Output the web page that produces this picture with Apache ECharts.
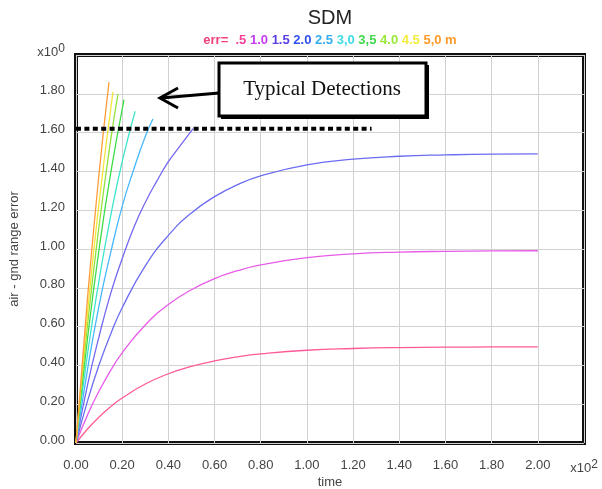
<!DOCTYPE html>
<html>
<head>
<meta charset="utf-8">
<script src="https://cdn.jsdelivr.net/npm/echarts@6/dist/echarts.min.js"></script>
<style>
  html, body { margin: 0; padding: 0; background: #fff; }
  #chart { width: 602px; height: 489px; }
</style>
</head>
<body>
<div id="chart"></div>
<script>
// Range-error growth over time for each error level (time in units of x10^2)
const errLabels = ['.5', '1.0', '1.5', '2.0', '2.5', '3,0', '3,5', '4.0', '4.5', '5,0 m'];

const tLong = [0, 0.05, 0.1, 0.15, 0.2, 0.3, 0.4, 0.5, 0.6, 0.7, 0.8, 1.0, 1.2, 1.4, 1.6, 1.8, 2.0];
const err05 = [0, 0.072, 0.134, 0.187, 0.232, 0.304, 0.357, 0.395, 0.423, 0.444, 0.459, 0.478, 0.487, 0.492, 0.494, 0.495, 0.496];
const err10 = [0, 0.145, 0.268, 0.374, 0.465, 0.608, 0.714, 0.790, 0.847, 0.888, 0.918, 0.956, 0.975, 0.984, 0.988, 0.990, 0.991];
const err15 = [0, 0.217, 0.403, 0.561, 0.697, 0.913, 1.070, 1.186, 1.270, 1.332, 1.377, 1.434, 1.463, 1.478, 1.485, 1.489, 1.490];

const t20 = [0, 0.05, 0.1, 0.15, 0.2, 0.25, 0.3, 0.35, 0.4, 0.45, 0.507];
const err20 = [0, 0.30, 0.55, 0.77, 0.95, 1.11, 1.24, 1.35, 1.45, 1.53, 1.62];
const t25 = [0, 0.05, 0.1, 0.15, 0.2, 0.25, 0.3, 0.333];
const err25 = [0, 0.38, 0.71, 0.98, 1.22, 1.41, 1.58, 1.67];
const t30 = [0, 0.05, 0.1, 0.15, 0.2, 0.256];
const err30 = [0, 0.46, 0.84, 1.17, 1.45, 1.71];
const t35 = [0, 0.05, 0.1, 0.15, 0.208];
const err35 = [0, 0.54, 1.00, 1.39, 1.77];
const t40 = [0, 0.05, 0.1, 0.15, 0.182];
const err40 = [0, 0.61, 1.12, 1.56, 1.80];
const t45 = [0, 0.05, 0.1, 0.16];
const err45 = [0, 0.67, 1.24, 1.81];
const t50 = [0, 0.05, 0.1, 0.143];
const err50 = [0, 0.75, 1.39, 1.86];

// Detection threshold level and the time span it is drawn over
const detectionLevel = 1.62;
const detectionSpan = [0, 1.28];

const curveColors = ['#ff5a98', '#e85ce8', '#6c6cf2', '#7468f0', '#46b8ff',
                     '#3ee4cc', '#3edc48', '#92e23a', '#f2e63a', '#ff9c3a'];
const legendColors = ['#f5409a', '#c43cf0', '#5a40e2', '#3050f0', '#34aef0',
                      '#3edce6', '#3ed84a', '#9ae83a', '#f4ec3a', '#ff9a2a'];

const curveTimes = [tLong, tLong, tLong, t20, t25, t30, t35, t40, t45, t50];
const curveValues = [err05, err10, err15, err20, err25, err30, err35, err40, err45, err50];

const series = curveValues.map((vals, i) => ({
  name: errLabels[i],
  type: 'line',
  data: vals.map((v, k) => [curveTimes[i][k], v]),
  smooth: true,
  showSymbol: false,
  symbol: 'none',
  silent: true,
  lineStyle: { width: 1.3, color: curveColors[i] },
  z: 2
}));

series.push({
  name: 'detection',
  type: 'line',
  data: detectionSpan.map(t => [t, detectionLevel]),
  symbol: 'none',
  silent: true,
  lineStyle: { width: 4, color: '#000', type: [5, 3.4], cap: 'butt' },
  z: 5
});

// Legend line: "err=" followed by each colored level
const legendFont = 'bold 13px "Liberation Sans", Arial, sans-serif';
const richLegend = { e: { fill: '#f0427e', font: legendFont } };
let legendText = '{e|err=  }';
errLabels.forEach((lab, i) => {
  richLegend['c' + i] = { fill: legendColors[i], font: legendFont };
  legendText += '{c' + i + '|' + lab + (i < errLabels.length - 1 ? ' ' : '') + '}';
});

const labelFont = '"Liberation Sans", Arial, sans-serif';
const near = (a, b) => Math.abs(a - b) < 1e-6;

const chart = echarts.init(document.getElementById('chart'), null, { renderer: 'canvas' });
chart.setOption({
  backgroundColor: '#fff',
  animation: false,
  grid: {
    left: 76, right: 18, top: 55, bottom: 46,
    containLabel: false, outerBoundsMode: 'none',
    show: true, borderColor: '#111', borderWidth: 4, backgroundColor: 'transparent'
  },
  xAxis: {
    type: 'value', min: 0, max: 2.2, interval: 0.2,
    name: 'time', nameLocation: 'middle', nameGap: 33, nameMoveOverlap: false,
    nameTextStyle: { color: '#444', fontSize: 13, fontFamily: labelFont },
    axisLine: { show: false }, axisTick: { show: false },
    splitLine: { show: true, lineStyle: { color: '#d2d2d2', width: 1 } },
    axisLabel: {
      margin: 16, color: '#444', fontSize: 13, fontFamily: labelFont,
      showMaxLabel: true, showMinLabel: true,
      formatter: v => near(v, 2.2) ? '{b|x10}{s|2}' : v.toFixed(2),
      rich: {
        b: { color: '#444', fontSize: 13, fontFamily: labelFont },
        s: { color: '#444', fontSize: 12, fontFamily: labelFont, padding: [0, 0, 7, 0] }
      }
    }
  },
  yAxis: {
    type: 'value', min: 0, max: 2.0, interval: 0.2,
    name: 'air - gnd range error', nameLocation: 'middle', nameGap: 55,
    nameTextStyle: { color: '#444', fontSize: 13, fontFamily: labelFont },
    axisLine: { show: false }, axisTick: { show: false },
    splitLine: { show: true, lineStyle: { color: '#d2d2d2', width: 1 } },
    axisLabel: {
      margin: 11, color: '#444', fontSize: 13, fontFamily: labelFont,
      padding: [0, 0, 6, 0],
      showMaxLabel: true,
      formatter: v => near(v, 2.0) ? '{b|x10}{s|0}' : v.toFixed(2),
      rich: {
        b: { color: '#444', fontSize: 13, fontFamily: labelFont },
        s: { color: '#444', fontSize: 12, fontFamily: labelFont, padding: [0, 0, 7, 0] }
      }
    }
  },
  series: series,
  graphic: [
    {
      type: 'text', x: 330, y: 8, z: 10,
      style: { text: 'SDM', fill: '#222', font: '20px "Liberation Sans", Arial, sans-serif', textAlign: 'center', textVerticalAlign: 'top' }
    },
    {
      type: 'text', x: 330, y: 34, z: 10,
      style: { text: legendText, rich: richLegend, textAlign: 'center', textVerticalAlign: 'top', font: legendFont }
    },
    // Annotation box with its label
    {
      type: 'rect', z: 20,
      shape: { x: 221, y: 65, width: 208, height: 54 },
      style: { fill: '#000' }
    },
    {
      type: 'rect', z: 21,
      shape: { x: 219, y: 63, width: 207, height: 53 },
      style: { fill: '#fff', stroke: '#000', lineWidth: 3 }
    },
    {
      type: 'text', x: 322, y: 89, z: 22,
      style: { text: 'Typical Detections', fill: '#111', font: '21px "Liberation Serif", "Times New Roman", serif',
               textAlign: 'center', textVerticalAlign: 'middle' }
    },
    // Arrow from the box to the curve tips
    {
      type: 'line', z: 20,
      shape: { x1: 219, y1: 93, x2: 161, y2: 98 },
      style: { stroke: '#000', lineWidth: 3 }
    },
    {
      type: 'polyline', z: 20,
      shape: { points: [[178, 88], [160, 98], [178, 108]] },
      style: { stroke: '#000', lineWidth: 3, fill: null, lineJoin: 'miter' }
    }
  ]
});
</script>
</body>
</html>
